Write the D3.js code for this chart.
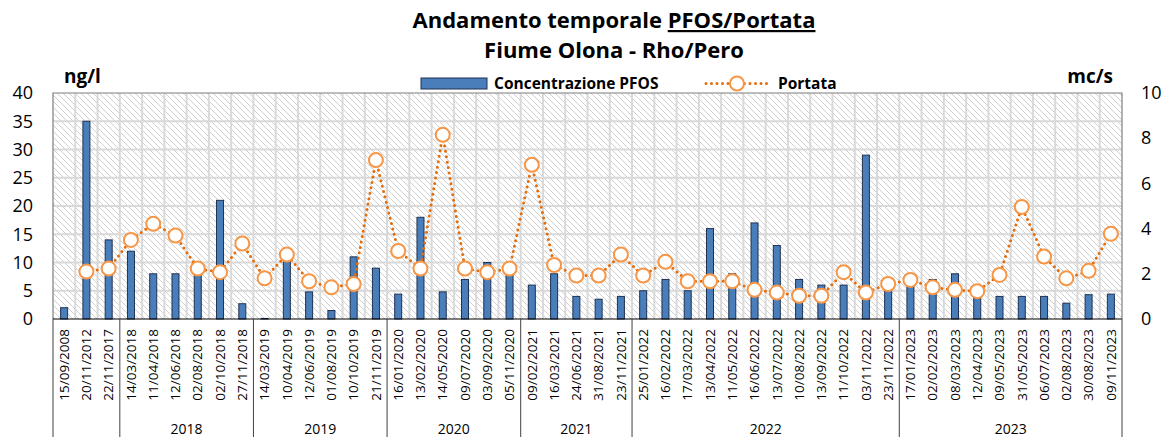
<!DOCTYPE html>
<html>
<head>
<meta charset="utf-8">
<script src="https://cdn.jsdelivr.net/npm/d3@7"></script>
<style>
  body { margin: 0; background: #fff; }
  svg { display: block; font-family: "Open Sans", sans-serif; }
</style>
</head>
<body>
<div id="chart"></div>
<script>
const dates = [
  "15/09/2008", "20/11/2012", "22/11/2017",
  "14/03/2018", "11/04/2018", "12/06/2018", "02/08/2018", "02/10/2018", "27/11/2018",
  "14/03/2019", "10/04/2019", "12/06/2019", "01/08/2019", "10/10/2019", "21/11/2019",
  "16/01/2020", "13/02/2020", "14/05/2020", "09/07/2020", "03/09/2020", "05/11/2020",
  "09/02/2021", "16/03/2021", "24/06/2021", "31/08/2021", "23/11/2021",
  "25/01/2022", "16/02/2022", "17/03/2022", "13/04/2022", "11/05/2022", "16/06/2022",
  "13/07/2022", "10/08/2022", "13/09/2022", "11/10/2022", "03/11/2022", "23/11/2022",
  "17/01/2023", "02/02/2023", "08/03/2023", "12/04/2023", "09/05/2023", "31/05/2023",
  "06/07/2023", "02/08/2023", "30/08/2023", "09/11/2023"
];

// concentrazione PFOS (ng/l)
const pfos = [
  2, 35, 14,
  12, 8, 8, 8, 21, 2.7,
  0.1, 10.4, 4.8, 1.5, 11, 9,
  4.4, 18, 4.8, 7, 10, 8.5,
  6, 8, 4, 3.5, 4,
  5, 7, 5, 16, 8, 17, 13, 7, 6, 6, 29, 6,
  6, 7, 8, 4.5, 4, 4, 4, 2.8, 4.3, 4.4
];

// portata (mc/s)
const portata = [
  null, 2.1, 2.23,
  3.5, 4.21, 3.69, 2.23, 2.07, 3.34,
  1.8, 2.85, 1.67, 1.4, 1.55, 7.03,
  3.01, 2.23, 8.15, 2.23, 2.07, 2.23,
  6.82, 2.39, 1.92, 1.92, 2.85,
  1.92, 2.53, 1.67, 1.67, 1.67, 1.29, 1.17, 1.03, 1.03, 2.07, 1.17, 1.55,
  1.73, 1.4, 1.29, 1.23, 1.95, 4.96, 2.76, 1.8, 2.13, 3.77
];

const yearGroups = ["", "2018", "2019", "2020", "2021", "2022", "2023"];
const ticksLeft = [0, 5, 10, 15, 20, 25, 30, 35, 40];
const ticksRight = [0, 2, 4, 6, 8, 10];

const width = 1165;
const height = 437;
const plot = { left: 53, right: 1122, top: 93, bottom: 319 };

const barColor = "#4a7ebb";
const barStroke = "#1f3150";
const lineColor = "#e46c0a";
const markerColor = "#f79646";
const gridColor = "#d9d9d9";

const svg = d3.select("#chart").append("svg")
  .attr("width", width)
  .attr("height", height);

const x = d3.scaleBand().domain(dates).range([plot.left, plot.right]);
const yL = d3.scaleLinear().domain([0, 40]).range([plot.bottom, plot.top]);
const yR = d3.scaleLinear().domain([0, 10]).range([plot.bottom, plot.top]);
const cx = (d) => x(d) + x.bandwidth() / 2;

// hatch background
const defs = svg.append("defs");
defs.append("pattern")
  .attr("id", "hatch")
  .attr("patternUnits", "userSpaceOnUse")
  .attr("width", 6)
  .attr("height", 6)
  .append("path")
  .attr("d", "M-1,-1L7,7M-1,5L1,7M5,-1L7,1")
  .attr("stroke", "#d0d0d0")
  .attr("stroke-width", 1);

svg.append("rect")
  .attr("x", plot.left).attr("y", plot.top)
  .attr("width", plot.right - plot.left)
  .attr("height", plot.bottom - plot.top)
  .attr("fill", "url(#hatch)");

// grid
svg.append("g")
  .selectAll("line")
  .data(ticksLeft.slice(1, -1))
  .join("line")
  .attr("x1", plot.left).attr("x2", plot.right)
  .attr("y1", (d) => yL(d)).attr("y2", (d) => yL(d))
  .attr("stroke", gridColor)
  .attr("stroke-width", 2);

svg.append("g")
  .selectAll("line")
  .data(dates.slice(1))
  .join("line")
  .attr("x1", (d) => x(d)).attr("x2", (d) => x(d))
  .attr("y1", plot.top).attr("y2", plot.bottom)
  .attr("stroke", gridColor)
  .attr("stroke-width", 2);

// bars
const barW = 7;
svg.append("g")
  .selectAll("rect")
  .data(dates)
  .join("rect")
  .attr("x", (d) => cx(d) - barW / 2)
  .attr("y", (d, i) => yL(pfos[i]))
  .attr("width", barW)
  .attr("height", (d, i) => plot.bottom - yL(pfos[i]))
  .attr("fill", barColor)
  .attr("stroke", barStroke)
  .attr("stroke-width", 1);

// portata line
const line = d3.line()
  .defined((d) => d[1] != null)
  .x((d) => cx(d[0]))
  .y((d) => yR(d[1]));

const pts = dates.map((d, i) => [d, portata[i]]);

svg.append("path")
  .datum(pts)
  .attr("d", line)
  .attr("fill", "none")
  .attr("stroke", lineColor)
  .attr("stroke-width", 3)
  .attr("stroke-linecap", "round")
  .attr("stroke-dasharray", "0 5.5");

svg.append("g")
  .selectAll("circle")
  .data(pts.filter((d) => d[1] != null))
  .join("circle")
  .attr("cx", (d) => cx(d[0]))
  .attr("cy", (d) => yR(d[1]))
  .attr("r", 7)
  .attr("fill", "#fff")
  .attr("stroke", markerColor)
  .attr("stroke-width", 2);

// frame
svg.append("path")
  .attr("d", `M${plot.left},${plot.bottom}V${plot.top}H${plot.right}V${plot.bottom}`)
  .attr("fill", "none")
  .attr("stroke", "#7f7f7f")
  .attr("stroke-width", 1.2);

// y axes
const yAxisLeft = d3.axisLeft(yL).tickValues(ticksLeft).tickSize(0).tickPadding(20);
const yAxisRight = d3.axisRight(yR).tickValues(ticksRight).tickSize(0).tickPadding(19);

svg.append("g")
  .attr("transform", `translate(${plot.left},0)`)
  .call(yAxisLeft)
  .call((g) => g.select(".domain").remove())
  .selectAll("text")
  .style("font-family", "Open Sans")
  .style("font-size", "18px")
  .attr("fill", "#000");

svg.append("g")
  .attr("transform", `translate(${plot.right},0)`)
  .call(yAxisRight)
  .call((g) => g.select(".domain").remove())
  .selectAll("text")
  .style("font-family", "Open Sans")
  .style("font-size", "18px")
  .attr("fill", "#000");

// x axis: dates
const xAxis = d3.axisBottom(x).tickSize(0);
svg.append("g")
  .attr("transform", `translate(0,${plot.bottom})`)
  .call(xAxis)
  .call((g) => g.select(".domain").remove())
  .selectAll("text")
  .style("font-family", "Open Sans")
  .style("font-size", "13.5px")
  .attr("fill", "#000")
  .attr("transform", "rotate(-90)")
  .attr("text-anchor", "end")
  .attr("x", -10)
  .attr("y", 0)
  .attr("dy", "0.35em");

svg.append("line")
  .attr("x1", plot.left).attr("x2", plot.right)
  .attr("y1", plot.bottom).attr("y2", plot.bottom)
  .attr("stroke", "#000")
  .attr("stroke-width", 1.2);

// x axis: years
const groupOf = (d) => {
  const yr = d.slice(-4);
  return +yr >= 2018 ? yr : "";
};
const groups = yearGroups.map((g) => {
  const members = dates.filter((d) => groupOf(d) === g);
  return { label: g, first: members[0], last: members[members.length - 1] };
});

const bounds = [plot.left].concat(groups.map((g) => x(g.last) + x.bandwidth()));
svg.append("g")
  .selectAll("line")
  .data(bounds)
  .join("line")
  .attr("x1", (d) => d).attr("x2", (d) => d)
  .attr("y1", plot.bottom).attr("y2", height)
  .attr("stroke", "#404040")
  .attr("stroke-width", 1);

svg.append("g")
  .selectAll("text")
  .data(groups)
  .join("text")
  .attr("x", (d) => (x(d.first) + x(d.last) + x.bandwidth()) / 2)
  .attr("y", 434)
  .attr("text-anchor", "middle")
  .style("font-size", "14px")
  .attr("fill", "#000")
  .text((d) => d.label);

// titles
const title = svg.append("text")
  .attr("x", 614)
  .attr("y", 28)
  .attr("text-anchor", "middle")
  .style("font-size", "22px")
  .style("font-weight", "bold");
title.append("tspan").text("Andamento temporale ");
title.append("tspan").style("text-decoration", "underline").text("PFOS/Portata");

svg.append("text")
  .attr("x", 614)
  .attr("y", 58)
  .attr("text-anchor", "middle")
  .style("font-size", "22px")
  .style("font-weight", "bold")
  .text("Fiume Olona - Rho/Pero");

svg.append("text")
  .attr("x", 64).attr("y", 83)
  .style("font-size", "19px")
  .style("font-weight", "bold")
  .text("ng/l");

svg.append("text")
  .attr("x", 1113).attr("y", 83)
  .attr("text-anchor", "end")
  .style("font-size", "19px")
  .style("font-weight", "bold")
  .text("mc/s");

// legend
const legend = svg.append("g");
legend.append("rect")
  .attr("x", 421).attr("y", 78)
  .attr("width", 66).attr("height", 11)
  .attr("fill", barColor)
  .attr("stroke", barStroke)
  .attr("stroke-width", 1);
legend.append("text")
  .attr("x", 494).attr("y", 89)
  .style("font-size", "15.5px")
  .style("font-weight", "bold")
  .text("Concentrazione PFOS");
legend.append("line")
  .attr("x1", 706).attr("x2", 769)
  .attr("y1", 83.5).attr("y2", 83.5)
  .attr("stroke", lineColor)
  .attr("stroke-width", 3)
  .attr("stroke-linecap", "round")
  .attr("stroke-dasharray", "0 5.5");
legend.append("circle")
  .attr("cx", 737).attr("cy", 83.5).attr("r", 7)
  .attr("fill", "#fff")
  .attr("stroke", markerColor)
  .attr("stroke-width", 2);
legend.append("text")
  .attr("x", 778).attr("y", 89)
  .style("font-size", "15.5px")
  .style("font-weight", "bold")
  .text("Portata");
</script>
</body>
</html>
